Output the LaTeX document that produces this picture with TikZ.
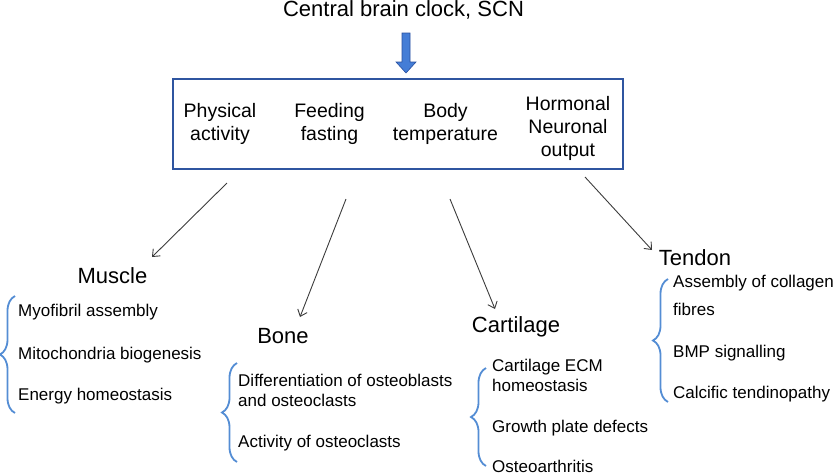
\documentclass[tikz,border=0pt]{standalone}
\usepackage{fontspec}
\setmainfont{Liberation Sans}
\usetikzlibrary{arrows.meta,decorations.pathreplacing}

\definecolor{boxblue}{RGB}{47,85,160}
\definecolor{braceblue}{RGB}{84,141,212}
\definecolor{arrowfill}{RGB}{68,125,214}
\definecolor{arrowline}{RGB}{40,80,160}
\definecolor{linkgray}{RGB}{60,60,60}

\begin{document}
\begin{tikzpicture}[x=1pt,y=-1pt,
  heading/.style={font=\fontsize{22}{26}\selectfont, inner sep=0pt, anchor=base},
  factor/.style={font=\fontsize{19.5}{23}\selectfont, align=center, inner sep=0pt, anchor=base},
  entry/.style={font=\fontsize{17}{20}\selectfont, align=left, inner sep=0pt, anchor=base west},
  link/.style={-{Straight Barb[length=6pt,width=10pt]}, line width=0.9pt, draw=linkgray},
  curly/.style={decorate, decoration={brace, amplitude=15pt}, draw=braceblue, line width=1.8pt}]

\useasboundingbox (0,0) rectangle (840,475);

% --- Clock and the box of factors ---
\node[heading] (clock) at (403.5,16.7) {Central brain clock, SCN};
\draw[fill=arrowfill, draw=arrowline, line width=0.6pt]
  (402,33) -- (410,33) -- (410,62) -- (416,62) -- (406,73) -- (396,62) -- (402,62) -- cycle;

\node[draw=boxblue, line width=2.4pt, minimum width=450pt, minimum height=90pt, inner sep=0pt] (drivers) at (398,124) {};
% base anchor sits on the last line
\node[factor] (activity) at (220,140.5) {Physical\\activity};
\node[factor] (feeding) at (329.5,140.5) {Feeding\\fasting};
\node[factor] (temperature) at (445.5,140.5) {Body\\temperature};
\node[factor] (output) at (568,156.5) {Hormonal\\Neuronal\\output};

% --- Tissues ---
\node[heading] (muscle) at (112.5,283.3) {Muscle};
\node[heading] (bone) at (283,343.3) {Bone};
\node[heading] (cartilage) at (516,332.7) {Cartilage};
\node[heading] (tendon) at (695,265) {Tendon};

% Arrows from the box to each tissue
\foreach \n/\sx/\sy/\ex/\ey in {muscle/227/183/152/257, bone/346/199/300/317,
                                cartilage/450/199/495/309, tendon/585/177/652/250} {
    \coordinate (\n-from) at (\sx,\sy);
    \coordinate (\n-to) at (\ex,\ey);
    \draw[link] (\n-from) -- (\n-to);
}

% --- Lists ---
\node[entry] (myofibril) at (18,316.7) {Myofibril assembly};
\node[entry] (mitochondria) at (18,359) {Mitochondria biogenesis};
\node[entry] (energy) at (18,400.7) {Energy homeostasis};

\node[entry] (differentiation) at (238,406) {Differentiation of osteoblasts\\and osteoclasts};
\node[entry] (osteoclasts) at (238,447) {Activity of osteoclasts};

\node[entry] (ecm) at (492,391.7) {Cartilage ECM\\homeostasis};
\node[entry] (growth) at (492,432.5) {Growth plate defects};
\node[entry] (arthritis) at (492,472.5) {Osteoarthritis};

\node[entry] (collagen) at (673,315) {Assembly of collagen\\[8pt]fibres};
\node[entry] (bmp) at (673,357) {BMP signalling};
\node[entry] (calcific) at (673,398) {Calcific tendinopathy};

% Braces
\foreach \x/\top/\bot in {15/296/413, 237/363/462, 486/368/466, 668/279/402} {
    \draw[curly] (\x,\bot) -- (\x,\top);
}

\end{tikzpicture}
\end{document}
